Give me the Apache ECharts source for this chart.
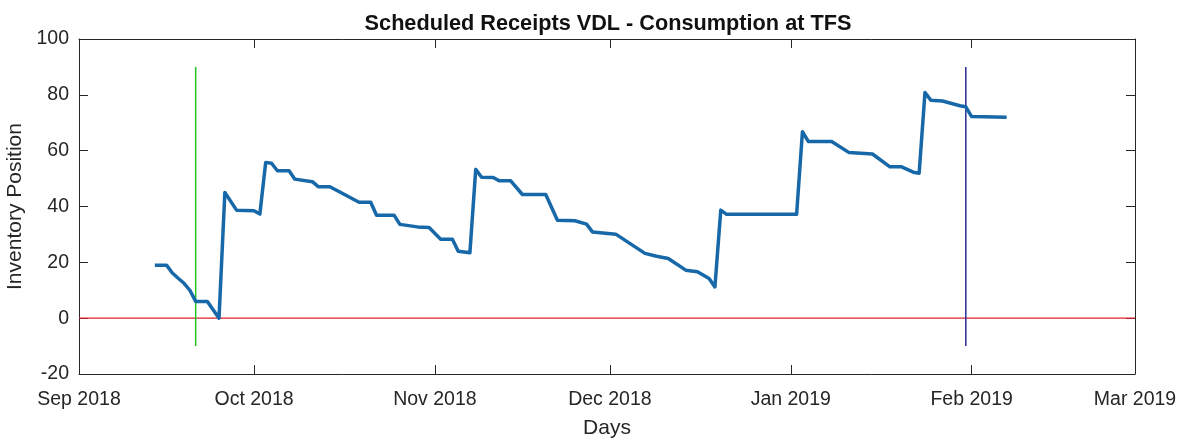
<!DOCTYPE html>
<html>
<head>
<meta charset="utf-8">
<script src="https://cdn.jsdelivr.net/npm/echarts@6/dist/echarts.min.js"></script>
<style>
  html, body { margin: 0; padding: 0; background: #fff; }
  #chart { width: 1189px; height: 439px; }
</style>
</head>
<body>
<div id="chart"></div>
<script>
// Inventory position over time (days)
const dates = [
  '2018-09-14', '2018-09-16', '2018-09-17', '2018-09-18', '2018-09-19', '2018-09-20',
  '2018-09-21', '2018-09-23', '2018-09-25', '2018-09-26', '2018-09-28', '2018-10-01',
  '2018-10-02', '2018-10-03', '2018-10-04', '2018-10-05', '2018-10-07', '2018-10-08',
  '2018-10-11', '2018-10-12', '2018-10-14', '2018-10-19', '2018-10-21', '2018-10-22',
  '2018-10-25', '2018-10-26', '2018-10-29', '2018-10-31', '2018-11-02', '2018-11-04',
  '2018-11-05', '2018-11-07', '2018-11-08', '2018-11-09', '2018-11-11', '2018-11-12',
  '2018-11-14', '2018-11-16', '2018-11-20', '2018-11-22', '2018-11-25', '2018-11-27',
  '2018-11-28', '2018-12-02', '2018-12-07', '2018-12-09', '2018-12-11', '2018-12-14',
  '2018-12-16', '2018-12-18', '2018-12-19', '2018-12-20', '2018-12-21', '2019-01-02',
  '2019-01-03', '2019-01-04', '2019-01-08', '2019-01-11', '2019-01-15', '2019-01-18',
  '2019-01-20', '2019-01-22', '2019-01-23', '2019-01-24', '2019-01-25', '2019-01-27',
  '2019-01-30', '2019-01-31', '2019-02-01', '2019-02-07'
];
const inventory = [
  19, 19, 16.2, 14.3, 12.5, 10,
  6, 6, 0, 45, 38.7, 38.5,
  37.3, 55.8, 55.5, 52.8, 52.8, 49.8,
  48.9, 47.1, 47.1, 41.5, 41.5, 36.9,
  36.9, 33.6, 32.7, 32.5, 28.3, 28.3,
  24, 23.4, 53.3, 50.5, 50.4, 49.2,
  49.2, 44.3, 44.3, 35.1, 34.9, 33.7,
  30.9, 30.1, 23.2, 22.2, 21.4, 17.2,
  16.6, 14.2, 11.2, 38.7, 37.2, 37.2,
  66.8, 63.3, 63.3, 59.3, 58.8, 54.2,
  54.2, 52.3, 51.9, 80.8, 78.1, 77.8,
  76.1, 75.7, 72.2, 72
];

// Vertical reference markers: start and end dates
const startMarker = '2018-09-21';
const endMarker = '2019-01-31';
const markerRange = [-10, 90];

// Zero stock level
const zeroLevel = 0;

// Axis range
const xRange = ['2018-09-01', '2019-03-01'];
const yTicks = [-20, 0, 20, 40, 60, 80, 100];
const monthNames = ['Jan', 'Feb', 'Mar', 'Apr', 'May', 'Jun', 'Jul', 'Aug', 'Sep', 'Oct', 'Nov', 'Dec'];

const FONT = '"Liberation Sans", Arial, Helvetica, sans-serif';
const AXIS_COLOR = '#262626';

const chart = echarts.init(document.getElementById('chart'), null, { renderer: 'canvas' });

function timeAxis(position, showLabels) {
  return {
    type: 'time',
    position: position,
    min: xRange[0],
    max: xRange[1],
    splitNumber: 6,
    axisLine: { show: true, onZero: false, lineStyle: { color: AXIS_COLOR, width: 1 } },
    axisTick: { show: true, inside: true, length: 9, lineStyle: { color: AXIS_COLOR } },
    splitLine: { show: false },
    axisLabel: {
      show: showLabels,
      color: AXIS_COLOR,
      fontFamily: FONT,
      fontSize: 19.5,
      margin: 16,
      showMinLabel: true,
      showMaxLabel: true,
      formatter: function (v) {
        const d = new Date(v);
        return monthNames[d.getMonth()] + ' ' + d.getFullYear();
      }
    },
    name: showLabels ? 'Days' : '',
    nameLocation: 'middle',
    nameGap: 44,
    nameTextStyle: { color: AXIS_COLOR, fontFamily: FONT, fontSize: 21 }
  };
}

function valueAxis(position, showLabels) {
  return {
    type: 'value',
    position: position,
    min: yTicks[0],
    max: yTicks[yTicks.length - 1],
    interval: yTicks[1] - yTicks[0],
    axisLine: { show: true, onZero: false, lineStyle: { color: AXIS_COLOR, width: 1 } },
    axisTick: { show: true, inside: true, length: 9, lineStyle: { color: AXIS_COLOR } },
    splitLine: { show: false },
    axisLabel: {
      show: showLabels,
      color: AXIS_COLOR,
      fontFamily: FONT,
      fontSize: 19.5,
      margin: 10
    },
    name: showLabels ? 'Inventory Position' : '',
    nameLocation: 'middle',
    nameGap: 51,
    nameTextStyle: { color: AXIS_COLOR, fontFamily: FONT, fontSize: 21 }
  };
}

const option = {
  animation: false,
  backgroundColor: '#ffffff',
  title: {
    text: 'Scheduled Receipts VDL - Consumption at TFS',
    left: 603,
    top: 8,
    textAlign: 'center',
    textStyle: { color: '#111111', fontFamily: FONT, fontSize: 21.7, fontWeight: 'bold' }
  },
  grid: {
    left: 79, right: 54, top: 39, bottom: 65,
    containLabel: false,
    outerBoundsMode: 'none'
  },
  xAxis: [timeAxis('bottom', true), timeAxis('top', false)],
  yAxis: [valueAxis('left', true), valueAxis('right', false)],
  series: [
    {
      name: 'Zero level',
      type: 'line',
      data: xRange.map(d => [d, zeroLevel]),
      showSymbol: false,
      silent: true,
      lineStyle: { color: '#e0202c', width: 1.3 }
    },
    {
      name: 'Start',
      type: 'line',
      data: markerRange.map(v => [startMarker, v]),
      showSymbol: false,
      silent: true,
      lineStyle: { color: '#22c422', width: 1.5 }
    },
    {
      name: 'End',
      type: 'line',
      data: markerRange.map(v => [endMarker, v]),
      showSymbol: false,
      silent: true,
      lineStyle: { color: '#2a2a94', width: 1.5 }
    },
    {
      name: 'Inventory Position',
      type: 'line',
      data: dates.map((d, i) => [d, inventory[i]]),
      showSymbol: false,
      z: 5,
      lineStyle: { color: '#1768a8', width: 3.5, join: 'round' }
    }
  ]
};

chart.setOption(option);
</script>
</body>
</html>
